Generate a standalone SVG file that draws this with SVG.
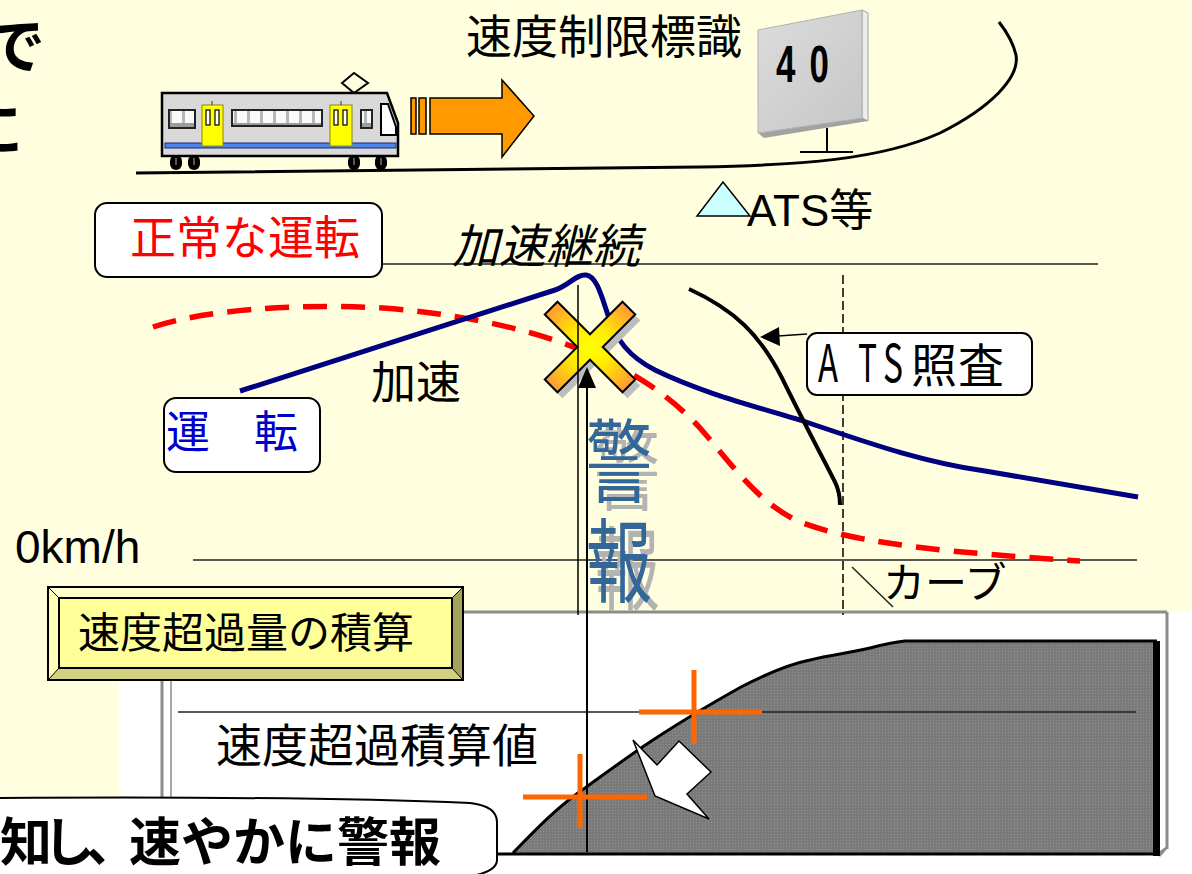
<svg xmlns="http://www.w3.org/2000/svg" width="1192" height="874" viewBox="0 0 1192 874">
  <defs>
    <style>
      .jp { font-family: "Noto Sans CJK JP", sans-serif; fill: #000; }
      .lat { font-family: "Liberation Sans", "Noto Sans CJK JP", sans-serif; fill: #000; }
      .box { fill: #fff; stroke: #000; stroke-width: 2; }
      .thin { stroke: #222; stroke-width: 1.5; fill: none; }
      .cross { stroke: #FF6600; stroke-width: 5; fill: none; }
      .frame { stroke: #8C8C8C; stroke-width: 3; fill: none; }
      .win { fill: url(#glass); stroke: #222; stroke-width: 2; }
      .door { fill: #FFFF00; stroke: #8A8A00; stroke-width: 1; }
      .dwin { fill: #fff; stroke: #000; stroke-width: 1.2; }
      .wheel { fill: #000; }
    </style>
    <pattern id="glass" x="0" y="110" width="13" height="18" patternUnits="userSpaceOnUse">
      <rect width="13" height="18" fill="#FAFAFA"/>
      <rect width="3" height="18" fill="#B8B8B8"/>
      <rect y="13" width="13" height="5" fill="#9C9C9C"/>
    </pattern>
    <pattern id="dots" width="3" height="3" patternUnits="userSpaceOnUse">
      <rect width="3" height="3" fill="#7A7A7A"/>
      <rect width="1" height="1" fill="#939393"/>
    </pattern>
    <radialGradient id="xfill" cx="0.5" cy="0.5" r="0.5">
      <stop offset="0" stop-color="#FFFF00"/>
      <stop offset="0.35" stop-color="#FFF000"/>
      <stop offset="1" stop-color="#FF9933"/>
    </radialGradient>
    <linearGradient id="signFace" x1="0" y1="0" x2="1" y2="1">
      <stop offset="0" stop-color="#DCDCDC"/>
      <stop offset="1" stop-color="#C6C6C6"/>
    </linearGradient>
  </defs>

  <!-- backgrounds -->
  <rect width="1192" height="874" fill="#FFFFDF"/>
  <rect x="119" y="611" width="1073" height="263" fill="#FFFFFF"/>

  <!-- partial title text at the left edge -->
  <g id="title-fragment" class="jp" font-size="60" font-weight="bold" text-anchor="end">
    <text x="45" y="68">で</text>
    <text x="23" y="151">に</text>
  </g>

  <!-- rail and curve -->
  <path id="rail" d="M136,173 L700,167 C800,165 880,160 940,133 C990,108 1020,78 1016,55 C1013,42 1006,31 999,22" fill="none" stroke="#000" stroke-width="3"/>

  <!-- train -->
  <g id="train">
    <polygon points="342,83 354,73 368,83 354,93" fill="#FFFFDF" stroke="#000" stroke-width="2"/>
    <path d="M162,93 L387,93 L398,123 L398,156 L162,156 Z" fill="#D9D9D9" stroke="#000" stroke-width="2.5"/>
    <rect x="165" y="143" width="231" height="5" fill="#4D86E8" stroke="#1A2A70" stroke-width="1"/>
    <rect class="win" x="169" y="110" width="26" height="18"/>
    <rect class="win" x="232" y="110" width="90" height="16"/>
    <rect class="win" x="361" y="110" width="11" height="18"/>
    <path d="M381,104 L388,104 L396,127 L396,135 L381,135 Z" fill="#fff" stroke="#000" stroke-width="2"/>
    <rect class="door" x="202" y="105" width="21" height="41"/>
    <rect class="dwin" x="206" y="110" width="4" height="15"/>
    <rect class="dwin" x="215" y="110" width="4" height="15"/>
    <line x1="212" y1="101" x2="212" y2="105" stroke="#333" stroke-width="1"/>
    <rect class="door" x="330" y="105" width="22" height="41"/>
    <rect class="dwin" x="334" y="110" width="4" height="15"/>
    <rect class="dwin" x="343" y="110" width="4" height="15"/>
    <line x1="341" y1="101" x2="341" y2="105" stroke="#333" stroke-width="1"/>
    <rect class="wheel" x="170" y="155" width="12" height="15" rx="6"/>
    <rect class="wheel" x="188" y="155" width="12" height="15" rx="6"/>
    <rect class="wheel" x="348" y="155" width="12" height="15" rx="6"/>
    <rect class="wheel" x="375" y="155" width="12" height="15" rx="6"/>
    <g stroke="#777" stroke-width="1.5">
      <line x1="176" y1="158" x2="176" y2="165"/>
      <line x1="194" y1="158" x2="194" y2="165"/>
      <line x1="354" y1="158" x2="354" y2="165"/>
      <line x1="381" y1="158" x2="381" y2="165"/>
    </g>
  </g>

  <!-- motion arrow -->
  <g id="motion-arrow" fill="#FF9900" stroke="#000" stroke-width="1.5">
    <rect x="411" y="98" width="5" height="36"/>
    <rect x="419" y="98" width="7" height="36"/>
    <path d="M430,98 L502,98 L502,80 L534,116 L502,157 L502,134 L430,134 Z"/>
  </g>

  <!-- speed limit sign -->
  <g id="sign">
    <text class="jp" x="466" y="53" font-size="46">速度制限標識</text>
    <polygon points="862,10 868,13 868,121 862,118" fill="#EDEDED" stroke="#A0A0A0" stroke-width="1"/>
    <polygon points="758,133 862,118 868,121 764,138" fill="#A2A2A2"/>
    <polygon points="758,30 862,10 862,118 758,133" fill="url(#signFace)" stroke="#B0B0B0" stroke-width="1"/>
    <text class="lat" transform="translate(776,82) scale(0.67,1)" font-size="52" font-weight="bold" letter-spacing="21">40</text>
    <line x1="827" y1="128" x2="827" y2="152" stroke="#000" stroke-width="2"/>
    <line x1="800" y1="152" x2="853" y2="152" stroke="#000" stroke-width="2"/>
  </g>

  <!-- ATS marker -->
  <g id="ats-marker">
    <polygon points="723,182 750,216 697,216" fill="#CCFFFF" stroke="#000" stroke-width="1.5"/>
    <text class="lat" x="747" y="226" font-size="44">ATS等</text>
  </g>

  <!-- accumulation chart -->
  <g id="chart">
    <line class="frame" x1="163" y1="612" x2="1167" y2="612"/>
    <line class="frame" x1="1167" y1="612" x2="1167" y2="849"/>
    <line class="frame" x1="162" y1="612" x2="162" y2="857"/>
    <line x1="171" y1="612" x2="171" y2="857" stroke="#A8A8A8" stroke-width="2"/>
    <polygon points="1157,853 1167,846 1167,849 1160,857" fill="#8C8C8C"/>
    <path d="M513,853 C540,825 560,805 585,788 C610,770 630,755 650,742 C680,722 700,710 741,687 C770,672 790,664 810,660 C830,655 855,652 870,648 C885,644 895,642 905,641 L1157,641 L1157,853 Z" fill="url(#dots)"/>
    <path d="M513,853 C540,825 560,805 585,788 C610,770 630,755 650,742 C680,722 700,710 741,687 C770,672 790,664 810,660 C830,655 855,652 870,648 C885,644 895,642 905,641 L1157,641" fill="none" stroke="#000" stroke-width="3"/>
    <rect x="1153" y="641" width="7" height="215" fill="#000"/>
    <line x1="495" y1="854" x2="1160" y2="854" stroke="#000" stroke-width="3"/>
  </g>

  <!-- connectors and guide lines -->
  <g id="connectors">
    <line class="thin" x1="383" y1="264" x2="1098" y2="264"/>
    <line class="thin" x1="193" y1="560" x2="1137" y2="560"/>
    <line x1="843" y1="275" x2="843" y2="615" stroke="#000" stroke-width="1.5" stroke-dasharray="9 4"/>
    <line class="thin" x1="178" y1="712" x2="1136" y2="712"/>
    <line class="thin" x1="852" y1="567" x2="893" y2="607"/>

    <!-- normal driving (red dashed) -->
    <path d="M153,327 C200,311 290,303 383,308 C450,313 510,325 560,342 C612,360 660,385 700,428 C735,468 758,503 800,522 C860,545 960,553 1080,561" fill="none" stroke="#FF0000" stroke-width="5.5" stroke-dasharray="24 14"/>
    <!-- actual driving (navy) -->
    <path d="M240,391 L555,290 C570,285 576,274 586,275 C597,276 602,298 609,318 C617,340 628,356 655,370 C700,392 750,405 800,420 C860,440 920,462 985,471 L1138,497" fill="none" stroke="#000080" stroke-width="5"/>
    <!-- ATS check curve -->
    <path d="M689,289 C735,310 760,335 782,378 C805,425 825,462 835,482 C840,492 840,500 840,505" fill="none" stroke="#000" stroke-width="4"/>
  </g>

  <!-- alarm mark -->
  <g id="alarm-x">
    <polygon transform="translate(595,353) rotate(45)" points="-9,-55 9,-55 9,-9 55,-9 55,9 9,9 9,55 -9,55 -9,9 -55,9 -55,-9 -9,-9" fill="#BDBDBD"/>
    <polygon transform="translate(590,347) rotate(45)" points="-9,-55 9,-55 9,-9 55,-9 55,9 9,9 9,55 -9,55 -9,9 -55,9 -55,-9 -9,-9" fill="url(#xfill)" stroke="#000" stroke-width="2"/>
  </g>

  <g id="alarm-lines">
    <line x1="578" y1="285" x2="578" y2="615" stroke="#000" stroke-width="1.5"/>
    <line x1="587" y1="852" x2="587" y2="386" stroke="#000" stroke-width="2"/>
    <polygon points="587,367 578,388 596,388" fill="#000"/>
    <line x1="807" y1="334" x2="778" y2="336" stroke="#000" stroke-width="1.5"/>
    <polygon points="760,337 779,327 780,346" fill="#000"/>
  </g>

  <!-- threshold crossings -->
  <g id="crossings">
    <line class="cross" x1="639" y1="712" x2="762" y2="712"/>
    <line class="cross" x1="694" y1="670" x2="694" y2="744"/>
    <line class="cross" x1="523" y1="797" x2="647" y2="797"/>
    <line class="cross" x1="580" y1="754" x2="580" y2="828"/>
    <polygon points="633,740 657,765 679,741 711,772 687,794 709,819 655,796" fill="#fff" stroke="#000" stroke-width="1.5" stroke-linejoin="miter"/>
  </g>

  <!-- labels -->
  <g id="normal-label">
    <rect class="box" x="95" y="203" width="287" height="74" rx="12"/>
    <text class="jp" x="130" y="254" font-size="46" style="fill:#FF0000">正常な運転</text>
  </g>

  <g id="accel-continue">
    <text class="jp" x="452" y="263" font-size="47" font-style="italic">加速継続</text>
  </g>

  <g id="drive-label">
    <rect class="box" x="164" y="398" width="156" height="74" rx="12"/>
    <text class="jp" x="166" y="448" font-size="44" style="fill:#0000CC">運　転</text>
  </g>

  <g id="accel-label">
    <text class="jp" x="371" y="399" font-size="45">加速</text>
  </g>

  <g id="ats-check">
    <rect class="box" x="807" y="333" width="225" height="62" rx="10"/>
    <text class="jp" y="382" font-size="52"><tspan x="818" textLength="20" lengthAdjust="spacingAndGlyphs">A</tspan><tspan x="858" textLength="19" lengthAdjust="spacingAndGlyphs">T</tspan><tspan x="883" textLength="20" lengthAdjust="spacingAndGlyphs">S</tspan><tspan x="911" font-size="46">照</tspan><tspan x="958" font-size="46">査</tspan></text>
  </g>

  <g id="alarm-text">
    <text class="jp" transform="translate(594,8) scale(1,1.38)" font-size="66" style="fill:#B3B3B3"><tspan x="0" y="359">警</tspan><tspan x="0" y="431">報</tspan></text>
    <text class="jp" transform="translate(586,0) scale(1,1.38)" font-size="66" style="fill:#336699"><tspan x="0" y="359">警</tspan><tspan x="0" y="431">報</tspan></text>
  </g>

  <g id="zero-label">
    <text class="lat" x="15" y="563" font-size="46">0km/h</text>
  </g>

  <g id="curve-label">
    <text class="jp" x="883" y="598" font-size="42">カーブ</text>
  </g>

  <g id="integral-box">
    <polygon points="48,587 463,587 452,598 59,598" fill="#FFFFCC"/>
    <polygon points="48,587 59,598 59,668 48,680" fill="#FFFFB8"/>
    <polygon points="463,587 463,680 452,668 452,598" fill="#A3A35C"/>
    <polygon points="48,680 463,680 452,668 59,668" fill="#D1D17F"/>
    <rect x="59" y="598" width="393" height="70" fill="#FFFF99" stroke="#000" stroke-width="2"/>
    <rect x="48" y="587" width="415" height="93" fill="none" stroke="#000" stroke-width="2"/>
    <g stroke="#000" stroke-width="1">
      <line x1="48" y1="587" x2="59" y2="598"/>
      <line x1="463" y1="587" x2="452" y2="598"/>
      <line x1="48" y1="680" x2="59" y2="668"/>
      <line x1="463" y1="680" x2="452" y2="668"/>
    </g>
    <text class="jp" x="78" y="648" font-size="42">速度超過量の積算</text>
  </g>

  <g id="integral-value">
    <text class="jp" x="216" y="762" font-size="46">速度超過積算値</text>
  </g>

  <g id="notice">
    <path d="M-2,798 C150,797 350,798 470,803 Q497,806 497,822 L497,860 Q497,871 472,876 L-2,876 Z" fill="#fff" stroke="#000" stroke-width="2"/>
    <text class="jp" x="0" y="861" font-size="52" font-weight="bold"><tspan letter-spacing="-9">知し、</tspan><tspan>速やかに警報</tspan></text>
  </g>
</svg>
